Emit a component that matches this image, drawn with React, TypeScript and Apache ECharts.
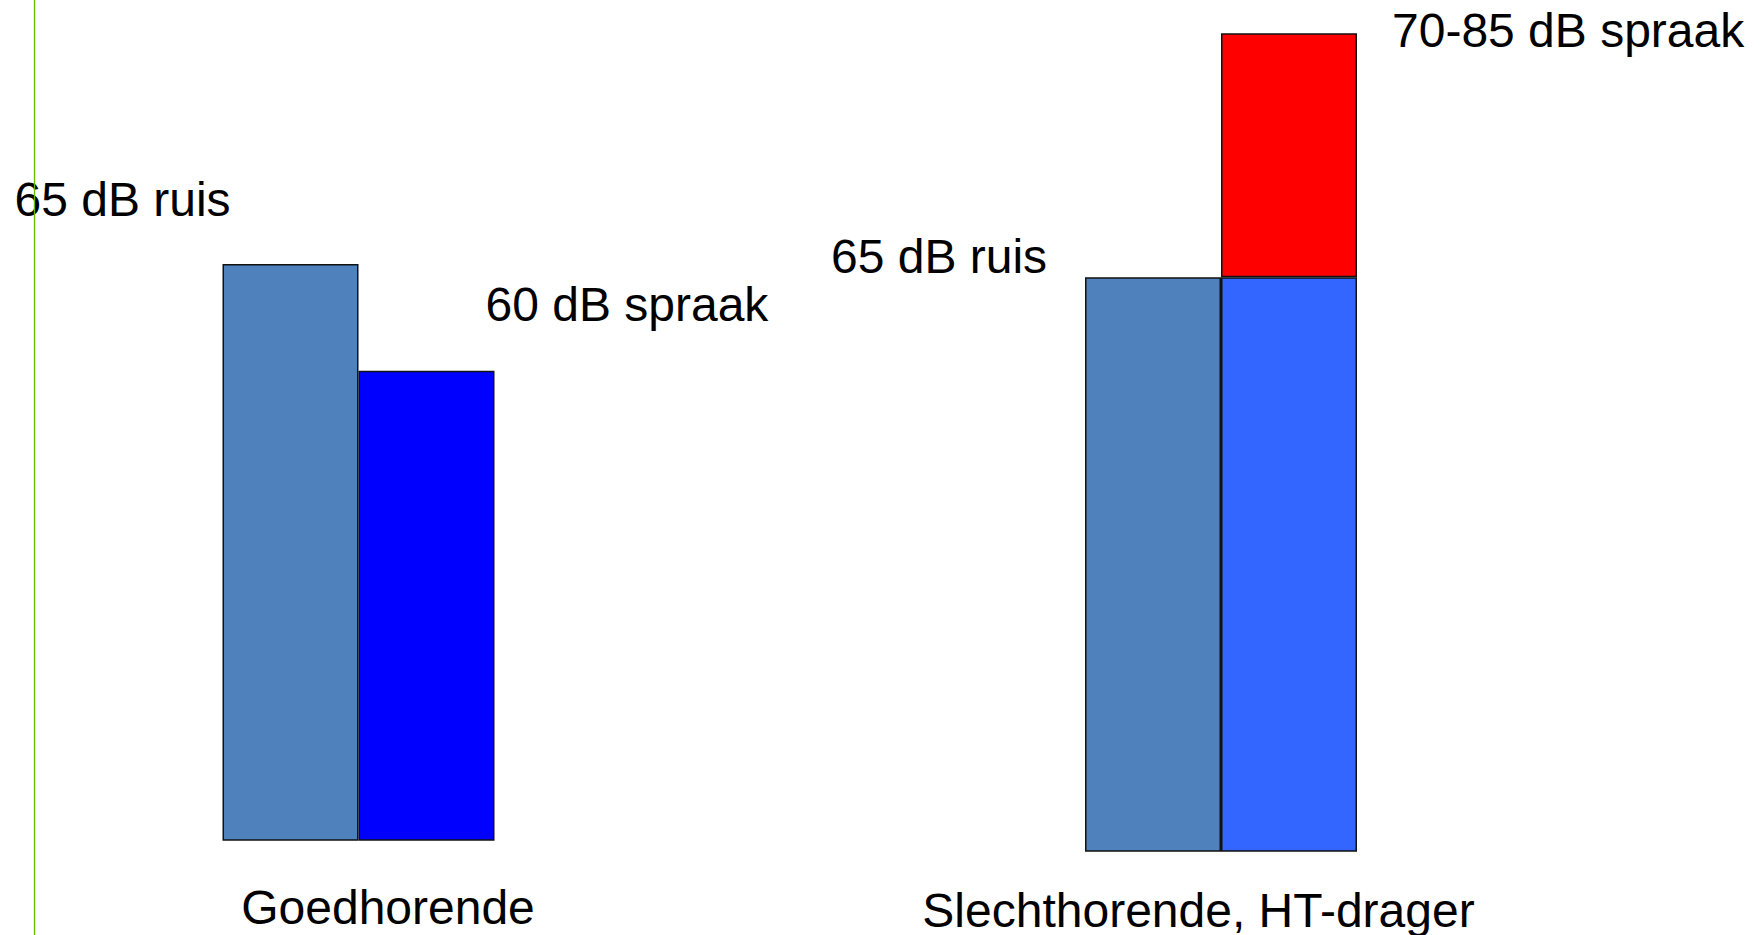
import React, { useEffect, useRef } from "react";
import * as echarts from "echarts";

// Categories (one per panel)
const leftCategory = ["Goedhorende"];
const rightCategory = ["Slechthorende, HT-drager"];

// Values in dB as drawn in the picture
const leftNoise = [65];
const leftSpeech = [60];
const rightNoise = [65];
const rightSpeechBase = [65];
const rightSpeechExtra = [20]; // 65 -> 85 dB

// Label texts
const labelLeftNoise = "65 dB ruis";
const labelLeftSpeech = "60 dB spraak";
const labelRightNoise = "65 dB ruis";
const labelRightSpeech = "70-85 dB spraak";

const FONT = "'Liberation Sans', Arial, sans-serif";
const FS = 48;

export default function App() {
  const ref = useRef<HTMLDivElement>(null);

  useEffect(() => {
    if (!ref.current) return;
    const chart = echarts.init(ref.current, undefined, { renderer: "svg" });

    const lbl = (text: string, pos: [number, number]) => ({
      show: true,
      formatter: text,
      position: pos,
      align: "left",
      verticalAlign: "middle",
      color: "#000",
      fontFamily: FONT,
      fontSize: FS,
    });

    const border = { borderColor: "#111", borderWidth: 1.5 };

    chart.setOption({
      animation: false,
      backgroundColor: "#fff",
      grid: [
        { left: 200, width: 317, top: 8, height: 832 },
        { left: 1060, width: 322, top: 21, height: 830 },
      ],
      xAxis: [
        {
          type: "category",
          gridIndex: 0,
          data: leftCategory,
          axisLine: { show: false },
          axisTick: { show: false },
          axisLabel: {
            color: "#000",
            fontFamily: FONT,
            fontSize: FS,
            margin: 43,
            padding: [0, 0, 0, 59],
          },
        },
        {
          type: "category",
          gridIndex: 1,
          data: rightCategory,
          axisLine: { show: false },
          axisTick: { show: false },
          axisLabel: {
            color: "#000",
            fontFamily: FONT,
            fontSize: FS,
            margin: 35,
            padding: [0, 45, 0, 0],
          },
        },
      ],
      yAxis: [
        { type: "value", gridIndex: 0, min: 38, max: 77, show: false, splitLine: { show: false } },
        { type: "value", gridIndex: 1, min: 18, max: 86, show: false, splitLine: { show: false } },
      ],
      series: [
        {
          type: "bar",
          name: "ruis",
          xAxisIndex: 0,
          yAxisIndex: 0,
          data: leftNoise,
          barWidth: 136,
          barGap: "0%",
          itemStyle: { color: "#4F81BD", ...border },
          label: lbl(labelLeftNoise, [-208, -65]),
        },
        {
          type: "bar",
          name: "spraak",
          xAxisIndex: 0,
          yAxisIndex: 0,
          data: leftSpeech,
          barWidth: 136,
          barGap: "0%",
          itemStyle: { color: "#0000FF", ...border },
          label: lbl(labelLeftSpeech, [127, -66]),
        },
        {
          type: "bar",
          name: "ruis",
          xAxisIndex: 1,
          yAxisIndex: 1,
          data: rightNoise,
          barWidth: 136,
          barGap: "0%",
          itemStyle: { color: "#4F81BD", ...border },
          label: lbl(labelRightNoise, [-254, -21]),
        },
        {
          type: "bar",
          name: "spraak",
          xAxisIndex: 1,
          yAxisIndex: 1,
          stack: "sp",
          data: rightSpeechBase,
          barWidth: 136,
          barGap: "0%",
          itemStyle: { color: "#3366FF", ...border },
        },
        {
          type: "bar",
          name: "spraak extra",
          xAxisIndex: 1,
          yAxisIndex: 1,
          stack: "sp",
          data: rightSpeechExtra,
          barWidth: 136,
          barGap: "0%",
          itemStyle: { color: "#FF0000", ...border },
          label: lbl(labelRightSpeech, [171, -3]),
        },
      ],
      graphic: [
        {
          type: "line",
          z: 100,
          shape: { x1: 34.5, y1: 0, x2: 34.5, y2: 935 },
          style: { stroke: "#66BB00", lineWidth: 1.3 },
        },
      ],
    });

    return () => chart.dispose();
  }, []);

  return (
    <div
      ref={ref}
      style={{ position: "fixed", left: 0, top: 0, width: 1762, height: 935 }}
    />
  );
}
